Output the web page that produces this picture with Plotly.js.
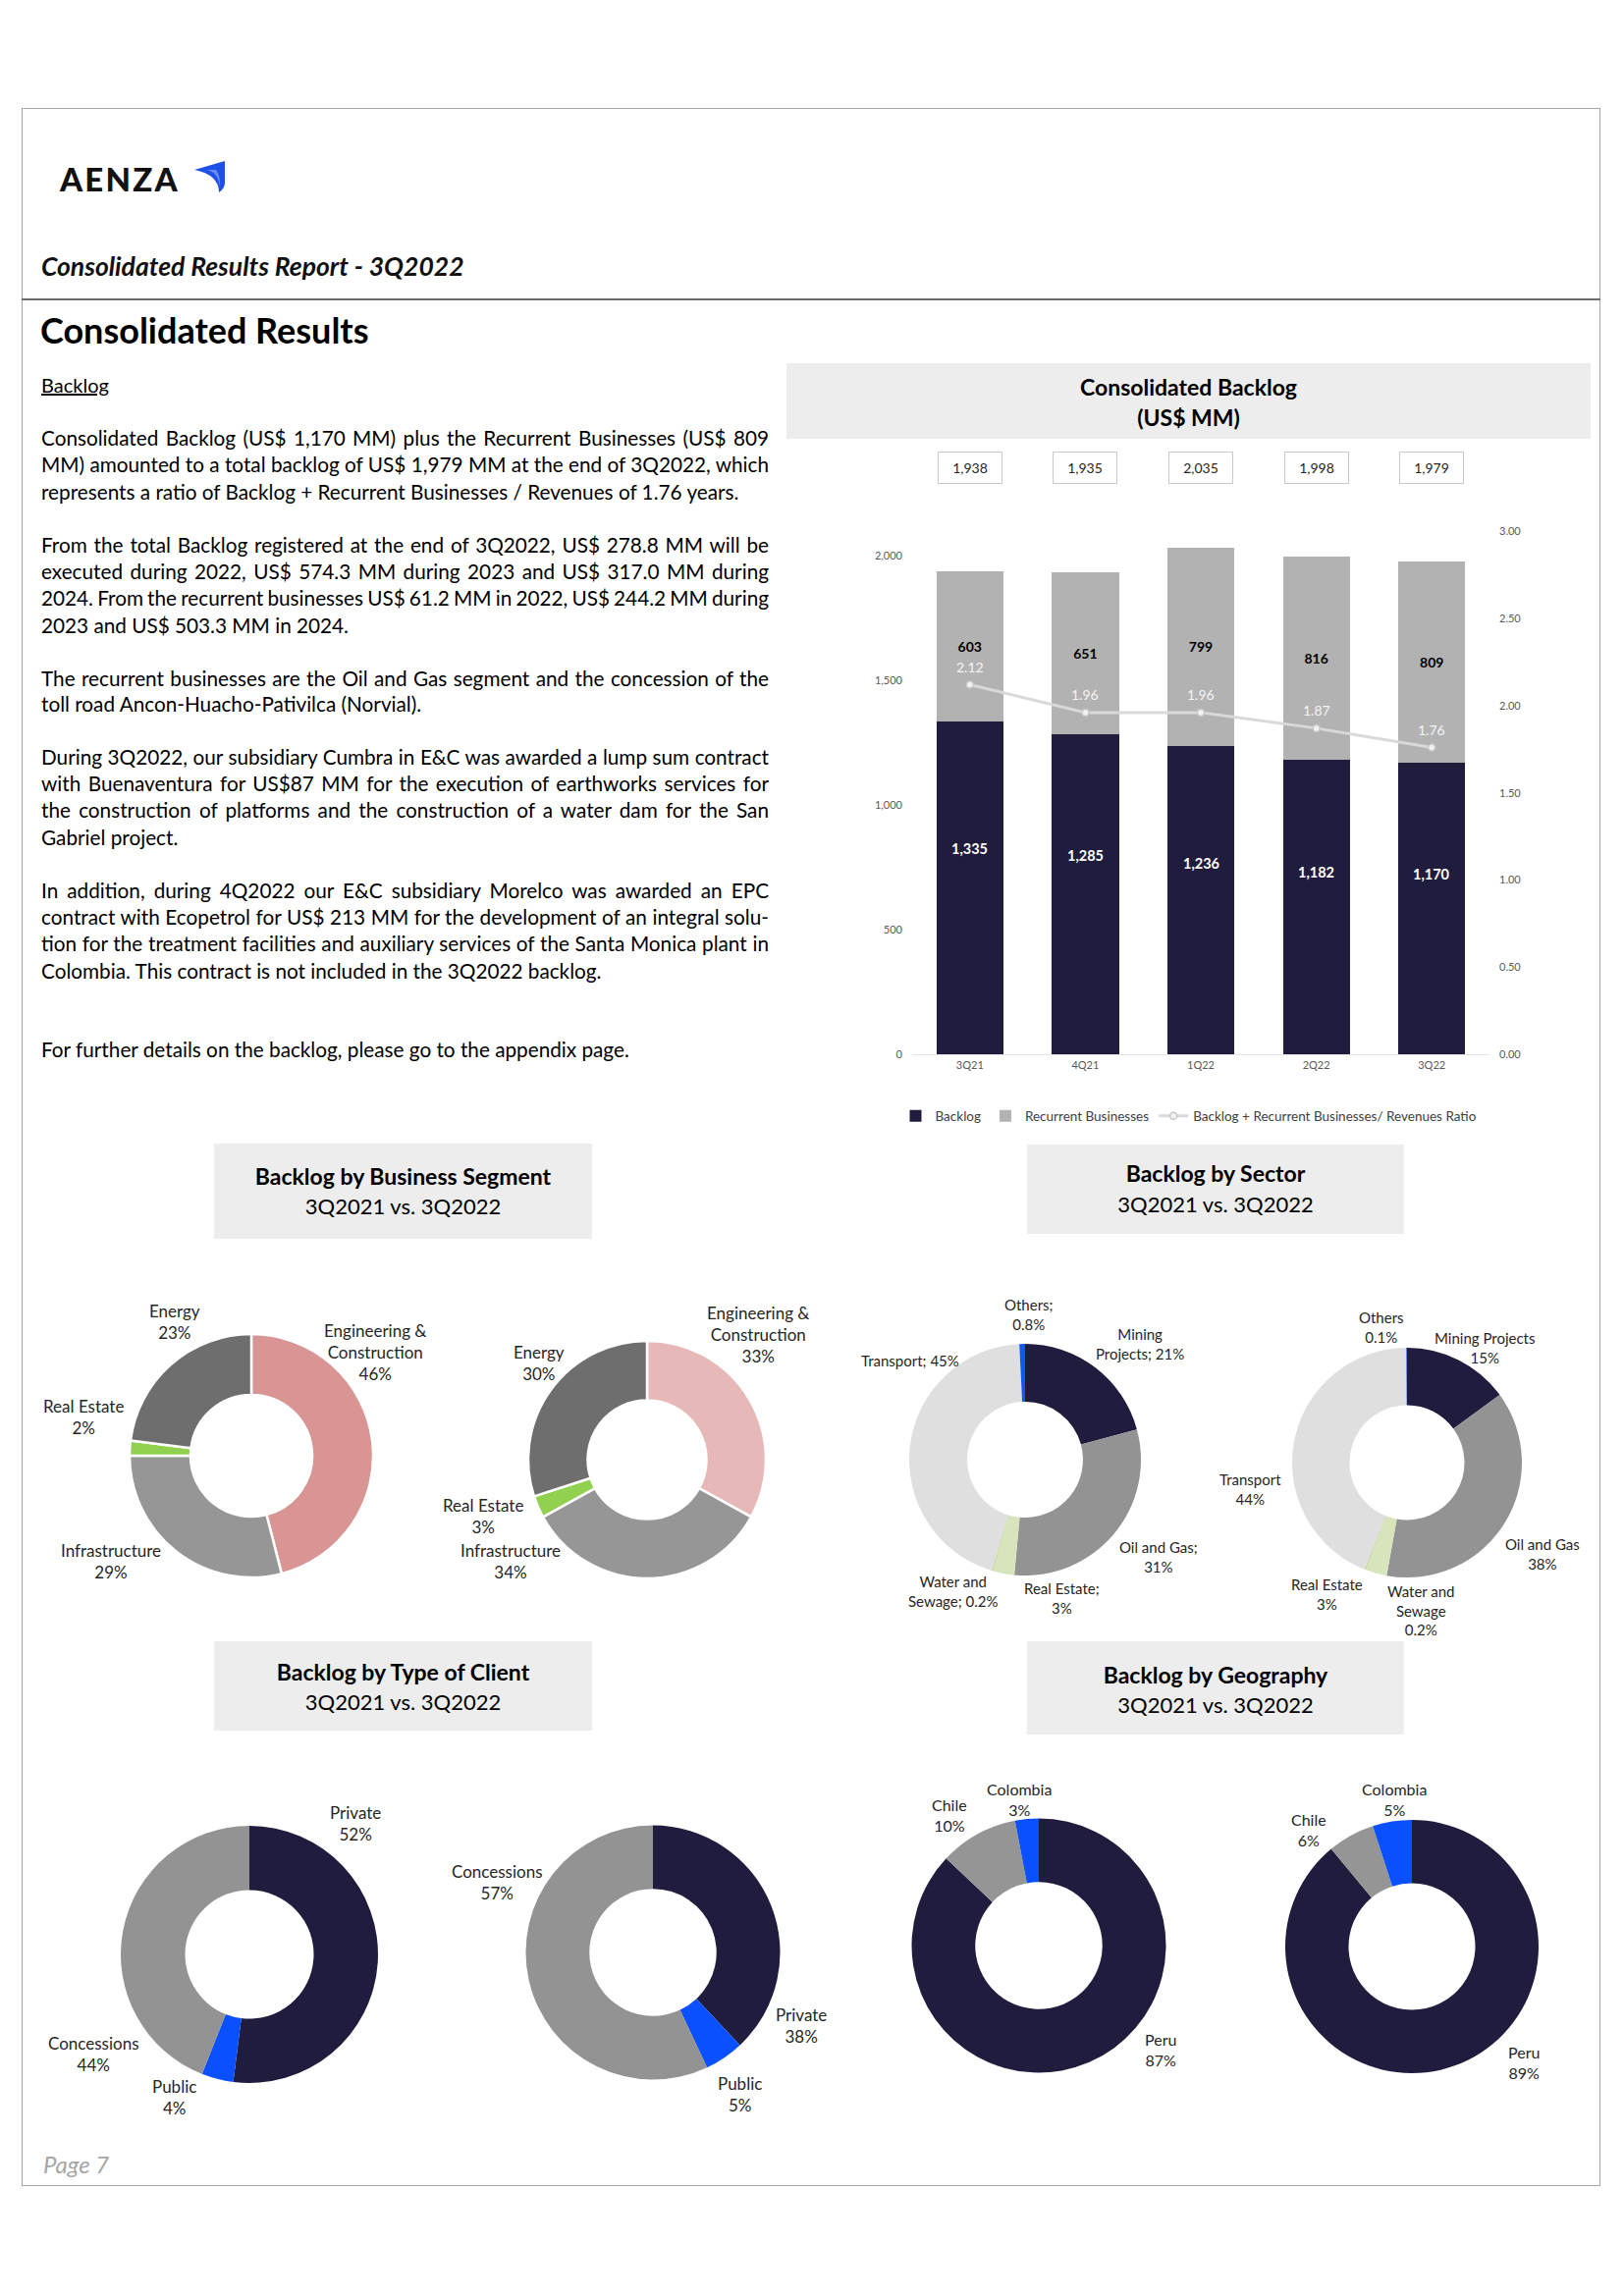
<!DOCTYPE html>
<html>
<head>
<meta charset="utf-8">
<script src="https://cdn.plot.ly/plotly-3.0.1.min.js"></script>
<style>
html,body{margin:0;padding:0;background:#fff}
body{position:relative;width:1654px;height:2339px;overflow:hidden;font-family:Lato,"Noto Sans",sans-serif;color:#000}
.a{position:absolute;white-space:nowrap}
#chart{position:absolute;left:0;top:0;width:1654px;height:2339px;z-index:1}
.box{position:absolute;background:#EDEDED;text-align:center;z-index:0;color:#000}
.box b{font-size:23px}
.t{z-index:2}
.bl{position:absolute;left:42px;height:28px;line-height:28px;white-space:nowrap;font-size:20px;z-index:2;color:#000}
</style>
</head>
<body>
<!-- page frame -->
<div class="a" style="left:22px;top:110px;width:1608px;height:2117px;border:1px solid #A6A6A6;box-sizing:border-box"></div>
<!-- logo -->
<div class="a t" style="left:61px;top:160px;font-size:33px;font-weight:900;letter-spacing:2.2px;line-height:44px;color:#111">AENZA</div>
<svg class="a t" style="left:196px;top:162px" width="36" height="36" viewBox="0 0 36 36">
  <path d="M2,11 L33,2 L33,25 Q32,31 27,34 Q27,16 2,11 Z" fill="#1E4FE6"/>
  <path d="M14,11 Q27,13 28,30 Q29,18 24,11 Z" fill="#fff" opacity="0.35"/>
</svg>
<div class="a t" style="left:42px;top:254px;font-size:26.5px;font-weight:700;font-style:italic;line-height:34px;color:#111">Consolidated Results Report - 3Q2022</div>
<div class="a" style="left:22px;top:304px;width:1608px;height:2px;background:#6B6B6B"></div>
<div class="a t" style="left:41px;top:313px;font-size:36px;font-weight:700;line-height:46px;color:#000">Consolidated Results</div>
<div class="a t" style="left:42px;top:378px;font-size:20px;line-height:28px;text-decoration:underline">Backlog</div>

<!-- chart title boxes -->
<div class="box" style="left:801px;top:370px;width:819px;height:77px">
  <div style="position:absolute;left:0;right:0;top:9px;font-size:23px;font-weight:700;line-height:31px">Consolidated Backlog<br>(US$ MM)</div>
</div>
<div class="box" style="left:218px;top:1165px;width:385px;height:97px">
  <div style="position:absolute;left:0;right:0;top:18px;font-size:22px;line-height:30px"><b>Backlog by Business Segment</b><br>3Q2021 vs. 3Q2022</div>
</div>
<div class="box" style="left:1046px;top:1166px;width:384px;height:91px">
  <div style="position:absolute;left:0;right:0;top:14px;font-size:22px;line-height:31px"><b>Backlog by Sector</b><br>3Q2021 vs. 3Q2022</div>
</div>
<div class="box" style="left:218px;top:1672px;width:385px;height:91px">
  <div style="position:absolute;left:0;right:0;top:16px;font-size:22px;line-height:30px"><b>Backlog by Type of Client</b><br>3Q2021 vs. 3Q2022</div>
</div>
<div class="box" style="left:1046px;top:1672px;width:384px;height:95px">
  <div style="position:absolute;left:0;right:0;top:19px;font-size:22px;line-height:30px"><b>Backlog by Geography</b><br>3Q2021 vs. 3Q2022</div>
</div>

<div class="a t" style="left:44px;top:2190px;font-size:24px;font-style:italic;font-weight:400;line-height:30px;color:#A6A6A6">Page 7</div>

<div id="chart"></div>

<script>
// ---------------- DATA ----------------
const quarters = ['3Q21','4Q21','1Q22','2Q22','3Q22'];
const backlog = [1335, 1285, 1236, 1182, 1170];
const recurrent = [603, 651, 799, 816, 809];
const totals = [1938, 1935, 2035, 1998, 1979];
const ratio = [2.12, 1.96, 1.96, 1.87, 1.76];

const segmentNames = ['Engineering & Construction','Infrastructure','Real Estate','Energy'];
const segment21 = [46, 29, 2, 23];
const segment22 = [33, 34, 3, 30];

const sectorNames = ['Mining Projects','Oil and Gas','Real Estate','Water and Sewage','Transport','Others'];
const sector21 = [21, 31, 3, 0.2, 45, 0.8];
const sector22 = [15, 38, 3, 0.2, 44, 0.1];

const clientNames = ['Private','Public','Concessions'];
const client21 = [52, 4, 44];
const client22 = [38, 5, 57];

const geoNames = ['Peru','Chile','Colombia'];
const geo21 = [87, 10, 3];
const geo22 = [89, 6, 5];

// ---------------- BODY TEXT ----------------
const bodyLines = [
 ["Consolidated Backlog (US$ 1,170 MM) plus the Recurrent Businesses (US$ 809", 446, true],
 ["MM) amounted to a total backlog of US$ 1,979 MM at the end of 3Q2022, which", 473, true],
 ["represents a ratio of Backlog + Recurrent Businesses / Revenues of 1.76 years.", 501, false],
 ["From the total Backlog registered at the end of 3Q2022, US$ 278.8 MM will be", 555, true],
 ["executed during 2022, US$ 574.3 MM during 2023 and US$ 317.0 MM during", 582, true],
 ["2024. From the recurrent businesses US$ 61.2 MM in 2022, US$ 244.2 MM during", 609, true],
 ["2023 and US$ 503.3 MM in 2024.", 637, false],
 ["The recurrent businesses are the Oil and Gas segment and the concession of the", 691, true],
 ["toll road Ancon-Huacho-Pativilca (Norvial).", 717, false],
 ["During 3Q2022, our subsidiary Cumbra in E&C was awarded a lump sum contract", 771, true],
 ["with Buenaventura for US$87 MM for the execution of earthworks services for", 798, true],
 ["the construction of platforms and the construction of a water dam for the San", 825, true],
 ["Gabriel project.", 853, false],
 ["In addition, during 4Q2022 our E&C subsidiary Morelco was awarded an EPC", 907, true],
 ["contract with Ecopetrol for US$ 213 MM for the development of an integral solu-", 934, true],
 ["tion for the treatment facilities and auxiliary services of the Santa Monica plant in", 961, true],
 ["Colombia. This contract is not included in the 3Q2022 backlog.", 989, false],
 ["For further details on the backlog, please go to the appendix page.", 1069, false]
];
const lineEls = bodyLines.map(([txt, y, just]) => {
  const d = document.createElement('div');
  d.className = 'bl';
  d.style.top = (y - 14) + 'px';
  const s = document.createElement('span');
  s.textContent = txt;
  d.appendChild(s);
  document.body.appendChild(d);
  return {s, just};
});
function layoutText(){
  const ref = lineEls[lineEls.length - 1].s;
  ref.style.fontSize = '20px';
  const w = ref.getBoundingClientRect().width;
  const fs = Math.min(21, 20 * 599 / w);
  lineEls.forEach(o => { o.s.style.fontSize = fs + 'px'; o.s.style.wordSpacing = '0px'; });
  lineEls.forEach(o => {
    if (!o.just) return;
    const nw = o.s.getBoundingClientRect().width;
    const n = (o.s.textContent.match(/ /g) || []).length;
    if (n > 0) o.s.style.wordSpacing = ((741 - nw) / n) + 'px';
  });
}
layoutText();
if (document.fonts && document.fonts.ready) document.fonts.ready.then(layoutText);

// ---------------- CHART ----------------
const W = 1654, H = 2339;
const px = x => x / W, py = y => 1 - y / H;

const NAVY = '#201C3E', REC = '#B2B2B2';
const fmtPct = v => (v < 1 ? v.toFixed(1) : String(v)) + '%';
const fmtNum = v => v.toLocaleString('en-US');

const traces = [];
traces.push({
  type: 'bar', name: 'Backlog', x: quarters, y: backlog,
  marker: {color: NAVY}, textposition: 'none', hoverinfo: 'y', xaxis: 'x', yaxis: 'y'
});
traces.push({
  type: 'bar', name: 'Recurrent Businesses', x: quarters, y: recurrent,
  marker: {color: REC},
  texttemplate: '<b>%{y:,}</b>', textposition: 'inside', insidetextanchor: 'middle',
  textfont: {color: '#000000', size: 14}, hoverinfo: 'y', xaxis: 'x', yaxis: 'y'
});
traces.push({
  type: 'scatter', mode: 'lines+markers', name: 'Backlog + Recurrent Businesses/ Revenues Ratio',
  x: quarters, y: ratio, xaxis: 'x', yaxis: 'y2',
  line: {color: '#D9D9D9', width: 3},
  marker: {symbol: 'circle', size: 7, color: '#F2F2F2', line: {color: '#C8C8C8', width: 1.5}}
});

function pie(values, labels, colors, cx, cy, r, lw) {
  return {
    type: 'pie', values, labels, sort: false, direction: 'clockwise', rotation: 0, hole: 0.5,
    marker: {colors, line: {color: '#FFFFFF', width: lw}},
    textinfo: 'none', hoverinfo: 'label+value', showlegend: false,
    domain: {x: [px(cx - r), px(cx + r)], y: [py(cy + r), py(cy - r)]}
  };
}
const segColors21 = ['#D99594', '#969696', '#92D050', '#6E6E6E'];
const segColors22 = ['#E6B9B8', '#969696', '#92D050', '#6E6E6E'];
const secColors = [NAVY, '#939393', '#D8E4BC', '#C4D79B', '#DFDFDF', '#1457F0'];
const cliColors = [NAVY, '#0A50FF', '#939393'];
const geoColors = [NAVY, '#959595', '#0A50FF'];

traces.push(pie(segment21, segmentNames, segColors21, 256, 1483, 124, 2.5));
traces.push(pie(segment22, segmentNames, segColors22, 659, 1487, 121, 2.5));
traces.push(pie(sector21, sectorNames, secColors, 1044, 1487, 118, 0));
traces.push(pie(sector22, sectorNames, secColors, 1433, 1490, 117, 0));
traces.push(pie(client21, clientNames, cliColors, 254, 1991, 131, 0));
traces.push(pie(client22, clientNames, cliColors, 665, 1989, 129.5, 0));
traces.push(pie(geo21, geoNames, geoColors, 1058, 1982, 129.5, 0));
traces.push(pie(geo22, geoNames, geoColors, 1438, 1983, 129, 0));

// label layouts: [template, x, y]  ({v} replaced by the value)
const pieLabels = [
  {vals: segment21, size: 17, items: [
    ['Engineering &<br>Construction<br>{v}', 382, 1378],
    ['Infrastructure<br>{v}', 113, 1590],
    ['Real Estate<br>{v}', 85, 1443],
    ['Energy<br>{v}', 178, 1346]]},
  {vals: segment22, size: 17, items: [
    ['Engineering &<br>Construction<br>{v}', 772, 1359],
    ['Infrastructure<br>{v}', 520, 1590],
    ['Real Estate<br>{v}', 492, 1545],
    ['Energy<br>{v}', 549, 1388]]},
  {vals: sector21, size: 15, items: [
    ['Mining<br>Projects; {v}', 1161, 1369],
    ['Oil and Gas;<br>{v}', 1180, 1586],
    ['Real Estate;<br>{v}', 1081, 1628],
    ['Water and<br>Sewage; {v}', 970, 1621],
    ['Transport; {v}', 927, 1386],
    ['Others;<br>{v}', 1047, 1339]]},
  {vals: sector22, size: 15, items: [
    ['Mining Projects<br>{v}', 1512, 1373],
    ['Oil and Gas<br>{v}', 1571, 1583],
    ['Real Estate<br>{v}', 1351, 1624],
    ['Water and<br>Sewage<br>{v}', 1447, 1640],
    ['Transport<br>{v}', 1273, 1517],
    ['Others<br>{v}', 1407, 1352]]},
  {vals: client21, size: 17, items: [
    ['Private<br>{v}', 362, 1857],
    ['Public<br>{v}', 177, 2136],
    ['Concessions<br>{v}', 95, 2092]]},
  {vals: client22, size: 17, items: [
    ['Private<br>{v}', 816, 2063],
    ['Public<br>{v}', 753, 2133],
    ['Concessions<br>{v}', 506, 1917]]},
  {vals: geo21, size: 16, items: [
    ['Peru<br>{v}', 1182, 2088],
    ['Chile<br>{v}', 967, 1849],
    ['Colombia<br>{v}', 1038, 1833]]},
  {vals: geo22, size: 16, items: [
    ['Peru<br>{v}', 1552, 2101],
    ['Chile<br>{v}', 1333, 1864],
    ['Colombia<br>{v}', 1420, 1833]]}
];

const annotations = [];
pieLabels.forEach(g => {
  g.items.forEach((it, i) => {
    annotations.push({
      xref: 'paper', yref: 'paper', x: px(it[1]), y: py(it[2]),
      text: it[0].replace('{v}', fmtPct(g.vals[i])), showarrow: false,
      xanchor: 'center', yanchor: 'middle', align: 'center',
      font: {size: g.size, color: '#262626'}
    });
  });
});
// total boxes above bars
quarters.forEach((q, i) => {
  annotations.push({
    xref: 'x', yref: 'paper', x: q, y: py(476), text: fmtNum(totals[i]), showarrow: false,
    xanchor: 'center', yanchor: 'middle', bgcolor: '#FFFFFF', bordercolor: '#C9C9C9', borderwidth: 1,
    borderpad: 4, width: 56, height: 23, font: {size: 14, color: '#262626'}
  });
});
// backlog data labels (placed in the upper part of each dark segment)
quarters.forEach((q, i) => {
  annotations.push({
    xref: 'x', yref: 'y', x: q, y: backlog[i] * 0.62, text: '<b>' + fmtNum(backlog[i]) + '</b>',
    showarrow: false, xanchor: 'center', yanchor: 'middle', font: {size: 14.5, color: '#FFFFFF'}
  });
});
// ratio data labels above the line points
quarters.forEach((q, i) => {
  annotations.push({
    xref: 'x', yref: 'y2', x: q, y: ratio[i], yshift: 18, text: ratio[i].toFixed(2), showarrow: false,
    xanchor: 'center', yanchor: 'middle', font: {size: 14, color: '#F4F4F4'}
  });
});

const tickFont = {size: 11, color: '#595959'};
const layout = {
  width: W, height: H, margin: {l: 0, r: 0, t: 0, b: 0},
  paper_bgcolor: 'rgba(0,0,0,0)', plot_bgcolor: 'rgba(0,0,0,0)',
  font: {family: 'Lato, "Noto Sans", sans-serif', color: '#404040'},
  barmode: 'stack', bargap: 0.42,
  xaxis: {domain: [px(929), px(1517)], type: 'category', showline: true, linecolor: '#E3E3E3', linewidth: 1,
    ticks: '', tickfont: tickFont, fixedrange: true, anchor: 'y', showgrid: false, zeroline: false},
  yaxis: {domain: [py(1074.3), py(541)], range: [0, 2100], tickvals: [0, 500, 1000, 1500, 2000],
    tickformat: ',', showgrid: false, zeroline: false, showline: false, ticks: '', tickfont: tickFont,
    ticklabelstandoff: 9, fixedrange: true, anchor: 'x'},
  yaxis2: {overlaying: 'y', side: 'right', range: [0, 3], tick0: 0, dtick: 0.5, tickformat: '.2f',
    showgrid: false, zeroline: false, showline: false, ticks: '', tickfont: tickFont,
    ticklabelstandoff: 9, fixedrange: true, anchor: 'x'},
  showlegend: true,
  legend: {orientation: 'h', traceorder: 'normal', x: px(1211), xanchor: 'center', y: py(1137), yanchor: 'middle',
    font: {size: 13.5, color: '#404040'}, bgcolor: 'rgba(0,0,0,0)', itemwidth: 30, tracegroupgap: 0},
  annotations
};
Plotly.newPlot('chart', traces, layout, {displayModeBar: false, responsive: false});
</script>
</body>
</html>
